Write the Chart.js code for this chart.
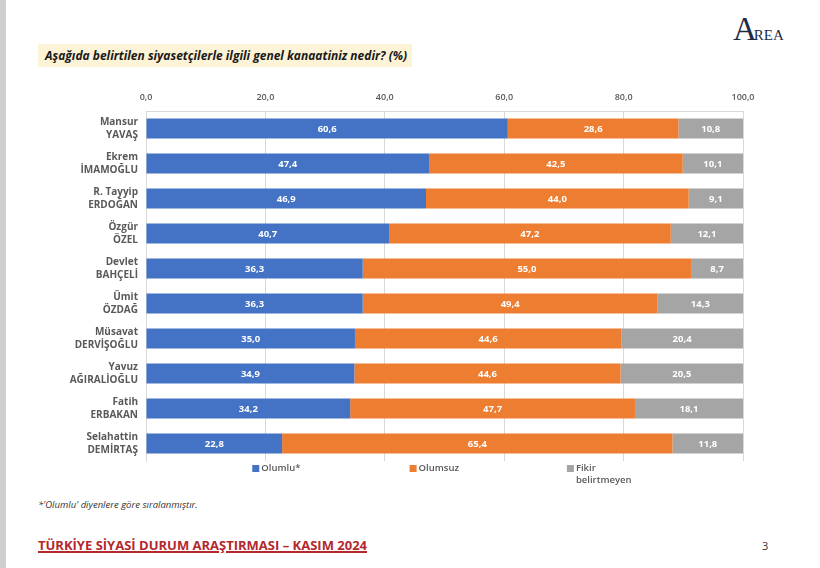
<!DOCTYPE html>
<html>
<head>
<meta charset="utf-8">
<script src="https://cdn.jsdelivr.net/npm/chart.js@4.4.1/dist/chart.umd.min.js"></script>
<style>
  html, body { margin: 0; padding: 0; background: #fff; }
  body { width: 820px; height: 568px; position: relative; overflow: hidden; font-family: "Open Sans", sans-serif; }
  #strip { position: absolute; left: 0; top: 0; width: 6px; height: 568px; background: #cfcfcf; }
  #question { position: absolute; left: 38px; top: 44px; width: 374px; height: 23px; background: #fdf3d6;
    font: italic bold 12px "Open Sans", sans-serif; color: #1a1a1a; line-height: 23px; padding-left: 7px; box-sizing: border-box; white-space: nowrap; }
  #logo { position: absolute; left: 733px; top: 11px; font-family: "Liberation Serif", serif; color: #1f2a44; }
  #logo .big { font-size: 33px; }
  #logo .small { font-size: 15px; margin-left: -3px; }
  #note { position: absolute; left: 38px; top: 498px; font: italic 9.5px "Open Sans", sans-serif; color: #333; }
  #footer { position: absolute; left: 38px; top: 536px; font: bold 13px "Open Sans", sans-serif; color: #b3282d;
    text-decoration: underline; text-decoration-thickness: 2px; }
  #page { position: absolute; left: 762px; top: 538px; font: 11px "Open Sans", sans-serif; color: #333; }
  #wrap { position: absolute; left: 0; top: 80px; width: 820px; height: 410px; }
</style>
</head>
<body>
<div id="strip"></div>
<div id="question">Aşağıda belirtilen siyasetçilerle ilgili genel kanaatiniz nedir? (%)</div>
<div id="logo"><span class="big">A</span><span class="small">REA</span></div>
<div id="wrap"><canvas id="chart"></canvas></div>
<div id="note">*'Olumlu' diyenlere göre sıralanmıştır.</div>
<div id="footer">TÜRKİYE SİYASİ DURUM ARAŞTIRMASI – KASIM 2024</div>
<div id="page">3</div>
<script>
(function() {
  var names = [
    ['Mansur', 'YAVAŞ'],
    ['Ekrem', 'İMAMOĞLU'],
    ['R. Tayyip', 'ERDOĞAN'],
    ['Özgür', 'ÖZEL'],
    ['Devlet', 'BAHÇELİ'],
    ['Ümit', 'ÖZDAĞ'],
    ['Müsavat', 'DERVİŞOĞLU'],
    ['Yavuz', 'AĞIRALİOĞLU'],
    ['Fatih', 'ERBAKAN'],
    ['Selahattin', 'DEMİRTAŞ']
  ];
  var olumlu   = [60.6, 47.4, 46.9, 40.7, 36.3, 36.3, 35.0, 34.9, 34.2, 22.8];
  var olumsuz  = [28.6, 42.5, 44.0, 47.2, 55.0, 49.4, 44.6, 44.6, 47.7, 65.4];
  var fikirYok = [10.8, 10.1, 9.1, 12.1, 8.7, 14.3, 20.4, 20.5, 18.1, 11.8];
  var seriesNames = ['Olumlu*', 'Olumsuz', ['Fikir', 'belirtmeyen']];
  var colors = ['#4472C4', '#ED7D31', '#A5A5A5'];

  var fontFam = '"Open Sans", Lato, sans-serif';

  function fmt(v) { return v.toFixed(1).replace('.', ','); }

  /* white value labels in the middle of each segment */
  var valuePlugin = {
    id: 'values',
    afterDatasetsDraw: function(chart) {
      var c = chart.ctx;
      c.save();
      c.font = 'bold 9.5px ' + fontFam;
      c.fillStyle = '#ffffff';
      c.textAlign = 'center';
      c.textBaseline = 'middle';
      chart.data.datasets.forEach(function(ds, d) {
        var meta = chart.getDatasetMeta(d);
        meta.data.forEach(function(el, i) {
          c.fillText(fmt(ds.data[i]), (el.x + el.base) / 2, el.y + 0.5);
        });
      });
      c.restore();
    }
  };

  /* legend under the plot, spread like the original */
  var legendPlugin = {
    id: 'bottomLegend',
    afterDraw: function(chart) {
      var c = chart.ctx;
      var a = chart.chartArea;
      var w = a.right - a.left;
      var y = a.bottom + 7;
      c.save();
      c.font = '600 9.5px ' + fontFam;
      c.textBaseline = 'middle';
      c.textAlign = 'left';
      chart.data.datasets.forEach(function(ds, d) {
        var x = a.left + w * (0.178 + d * 0.2635);
        c.fillStyle = ds.backgroundColor;
        c.fillRect(x, y - 3, 7, 7);
        c.fillStyle = '#595959';
        var lines = [].concat(seriesNames[d]);
        lines.forEach(function(t, k) {
          c.fillText(t, x + 9, y + 0.5 + k * 12);
        });
      });
      c.restore();
    }
  };

  new Chart(document.getElementById('chart'), {
    type: 'bar',
    data: {
      labels: names,
      datasets: [
        { label: 'Olumlu*', data: olumlu, backgroundColor: colors[0] },
        { label: 'Olumsuz', data: olumsuz, backgroundColor: colors[1] },
        { label: 'Fikir belirtmeyen', data: fikirYok, backgroundColor: colors[2] }
      ]
    },
    options: {
      indexAxis: 'y',
      responsive: true,
      maintainAspectRatio: false,
      animation: false,
      layout: { padding: { top: 0, right: 77, bottom: 29, left: 0 } },
      datasets: { bar: { categoryPercentage: 1, barPercentage: 0.57 } },
      plugins: {
        legend: { display: false },
        tooltip: { enabled: false }
      },
      scales: {
        x: {
          position: 'top',
          stacked: true,
          min: 0,
          max: 100,
          afterFit: function(s) { s.height = 31; },
          grid: { color: '#d9d9d9', drawTicks: false },
          border: { color: '#d9d9d9' },
          ticks: {
            stepSize: 20,
            padding: 8,
            color: '#595959',
            font: { size: 9, family: fontFam, weight: '600' },
            callback: function(v) { return fmt(v); }
          }
        },
        y: {
          stacked: true,
          afterFit: function(s) { s.width = 146; },
          grid: { display: false },
          border: { color: '#d9d9d9' },
          ticks: {
            padding: 0,
            color: '#595959',
            font: { size: 10, family: fontFam, weight: 'bold', lineHeight: 1.25 }
          }
        }
      }
    },
    plugins: [valuePlugin, legendPlugin]
  });
})();
</script>
</body>
</html>
